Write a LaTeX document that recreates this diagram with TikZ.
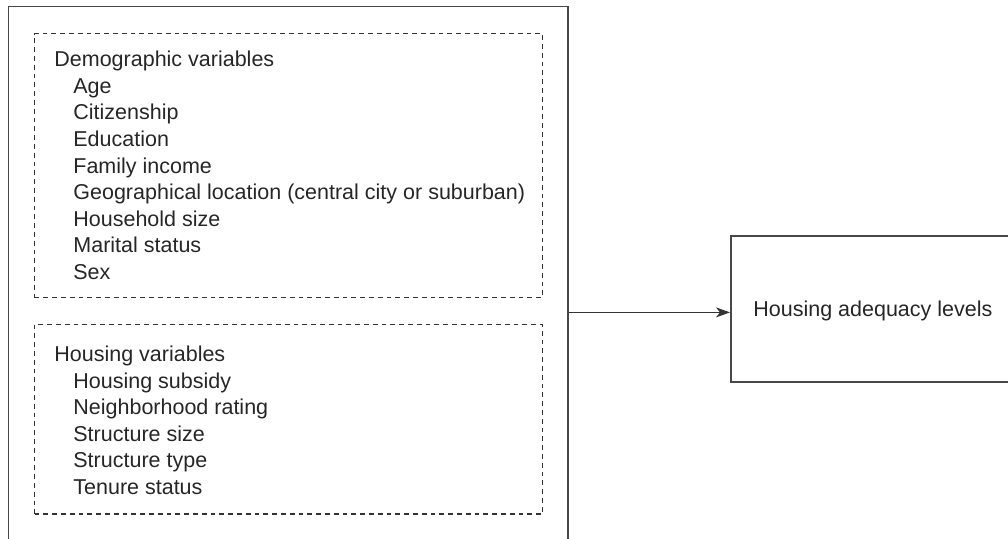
\documentclass[tikz,border=0pt]{standalone}
\usepackage{fontspec}
\setmainfont{Liberation Sans}
\usetikzlibrary{arrows.meta}
\begin{document}
\begin{tikzpicture}[x=0.5pt,y=-0.5pt,
  txt/.style={anchor=base west,inner sep=0pt,font=\fontsize{10.75}{13}\selectfont,text=black!85},
  solidbox/.style={draw=black!72,line width=0.8pt,anchor=north west,inner sep=0pt},
  dashbox/.style={draw=black!80,line width=0.55pt,dash pattern=on 2.4pt off 2pt,anchor=north west,inner sep=0pt},
  arr/.style={draw=black!80,line width=0.6pt,-{Stealth[length=7pt,width=5pt,inset=2pt]}}]
\useasboundingbox (0,0) rectangle (1008,539);
\clip (0,0) rectangle (1008,539);
% outer box (bottom cut off by the frame)
\node[solidbox,minimum width=279.75pt,minimum height=280pt] (outer) at (7.5,5.7) {};
% dashed groups
\node[dashbox,minimum width=254pt,minimum height=132pt] (demo) at (34,33) {};
\node[dashbox,minimum width=254pt,minimum height=94.75pt] (hous) at (34,324) {};
% target box (right side cut off by the frame)
\node[solidbox,minimum width=150pt,minimum height=73pt] (target) at (730,235) {};
\node[txt] (targetlabel) at (753,317) {Housing adequacy levels};
% demographic variables
\node[txt] (dh) at (54,66.7) {Demographic variables};
\foreach \t [count=\i] in {Age,Citizenship,Education,Family income,Geographical location (central city or suburban),Household size,Marital status,Sex}
  \node[txt] (d\i) at (73,66.7+26.6*\i) {\t};
% housing variables
\node[txt] (hh) at (54,361.5) {Housing variables};
\foreach \t [count=\i] in {Housing subsidy,Neighborhood rating,Structure size,Structure type,Tenure status}
  \node[txt] (h\i) at (73,361.5+26.6*\i) {\t};
% connector
\draw[arr] ([yshift=-1.8pt]target.west -| outer.east) -- ([yshift=-1.8pt]target.west);
\end{tikzpicture}
\end{document}
